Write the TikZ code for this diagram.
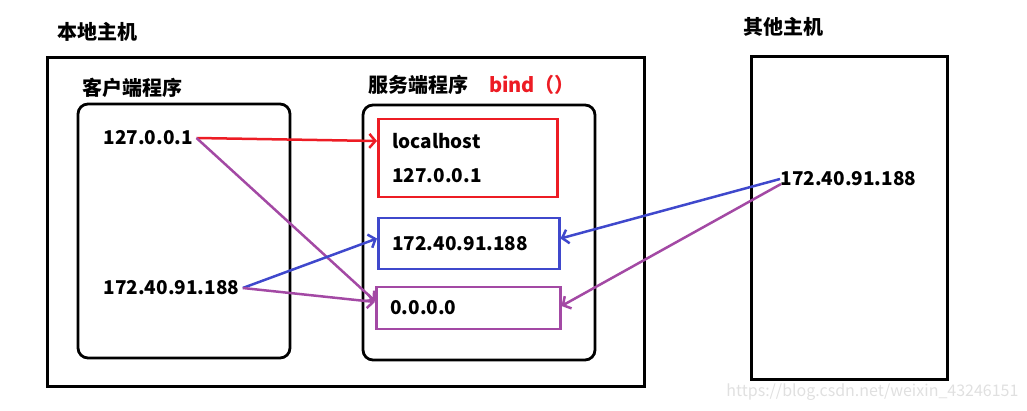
\documentclass[tikz,border=0pt]{standalone}
\usepackage{fontspec}
\setmainfont{Noto Sans CJK SC}
\usepackage{tikz}
\usetikzlibrary{arrows.meta,positioning}

\definecolor{pred}{RGB}{237,28,36}
\definecolor{pblue}{RGB}{63,72,204}
\definecolor{ppurple}{RGB}{163,73,164}

\begin{document}
\begin{tikzpicture}[
      x=1pt,y=-1pt,
      every node/.style={font=\fontsize{19}{34}\selectfont\bfseries},
      hostbox/.style={draw,line width=3pt,inner sep=0pt},
      progbox/.style={draw,line width=2.8pt,rounded corners=10pt,inner sep=0pt},
      addrbox/.style={draw,line width=2.5pt,align=left,inner xsep=14pt,anchor=west},
      title/.style={font=\fontsize{20}{24}\selectfont\bfseries},
      conn/.style={line width=2.5pt,-{Straight Barb[length=6pt,width=14pt,line width=2.5pt]}}
    ]
    \useasboundingbox (0,0) rectangle (1027,411);

    % hosts
    \node[title] (localtitle) at (97,32) {本地主机};
    \node[hostbox,minimum width=597pt,minimum height=328pt] (local) at (345.5,222) {};
    \node[title] (othertitle) at (783,27) {其他主机};
    \node[hostbox,minimum width=196pt,minimum height=322pt] (other) at (849,218) {};

    % programs
    \node[title] (clienttitle) at (132,88) {客户端程序};
    \node[progbox,minimum width=212pt,minimum height=254pt] (client) at (184,231) {};
    \node[title] (servertitle) at (418,85) {服务端程序};
    \node[title,text=pred,right=14pt of servertitle] (bind) {bind（）};
    \node[progbox,minimum width=232pt,minimum height=255pt] (server) at (479,232.5) {};

    % addresses
    \node[anchor=west] (c127) at (100,138) {127.0.0.1};
    \node[anchor=west] (c172) at (100,288) {172.40.91.188};
    \node[addrbox,draw=pred,text width=151pt,minimum height=78pt] (lochost) at (377,158)
      {localhost\\127.0.0.1};
    \node[addrbox,draw=pblue,text width=153pt,minimum height=51pt] (ipbox) at (377,243.5)
      {172.40.91.188};
    \node[addrbox,draw=ppurple,text width=156pt,minimum height=42pt] (anybox) at (375,308)
      {0.0.0.0};
    \node[anchor=west] (o172) at (777,179) {172.40.91.188};

    \draw[conn,pred] (c127.east) -- ([yshift=17pt]lochost.west);
    \draw[conn,ppurple] (c127.east) -- ([yshift=7pt]anybox.west);
    \draw[conn,pblue] (c172.east) -- ([yshift=5pt]ipbox.west);
    \draw[conn,ppurple] (c172.east) -- ([yshift=6pt]anybox.west);
    \draw[conn,pblue] ([xshift=3pt]o172.west) -- ([yshift=5pt]ipbox.east);
    \draw[conn,ppurple] ([xshift=4pt,yshift=-5pt]o172.west) -- ([yshift=2pt]anybox.east);

    \node[font=\fontsize{16}{20}\selectfont,text=black!12,anchor=east] (mark) at (1022,392)
      {https://blog.csdn.net/weixin\_43246151};
  \end{tikzpicture}
\end{document}
